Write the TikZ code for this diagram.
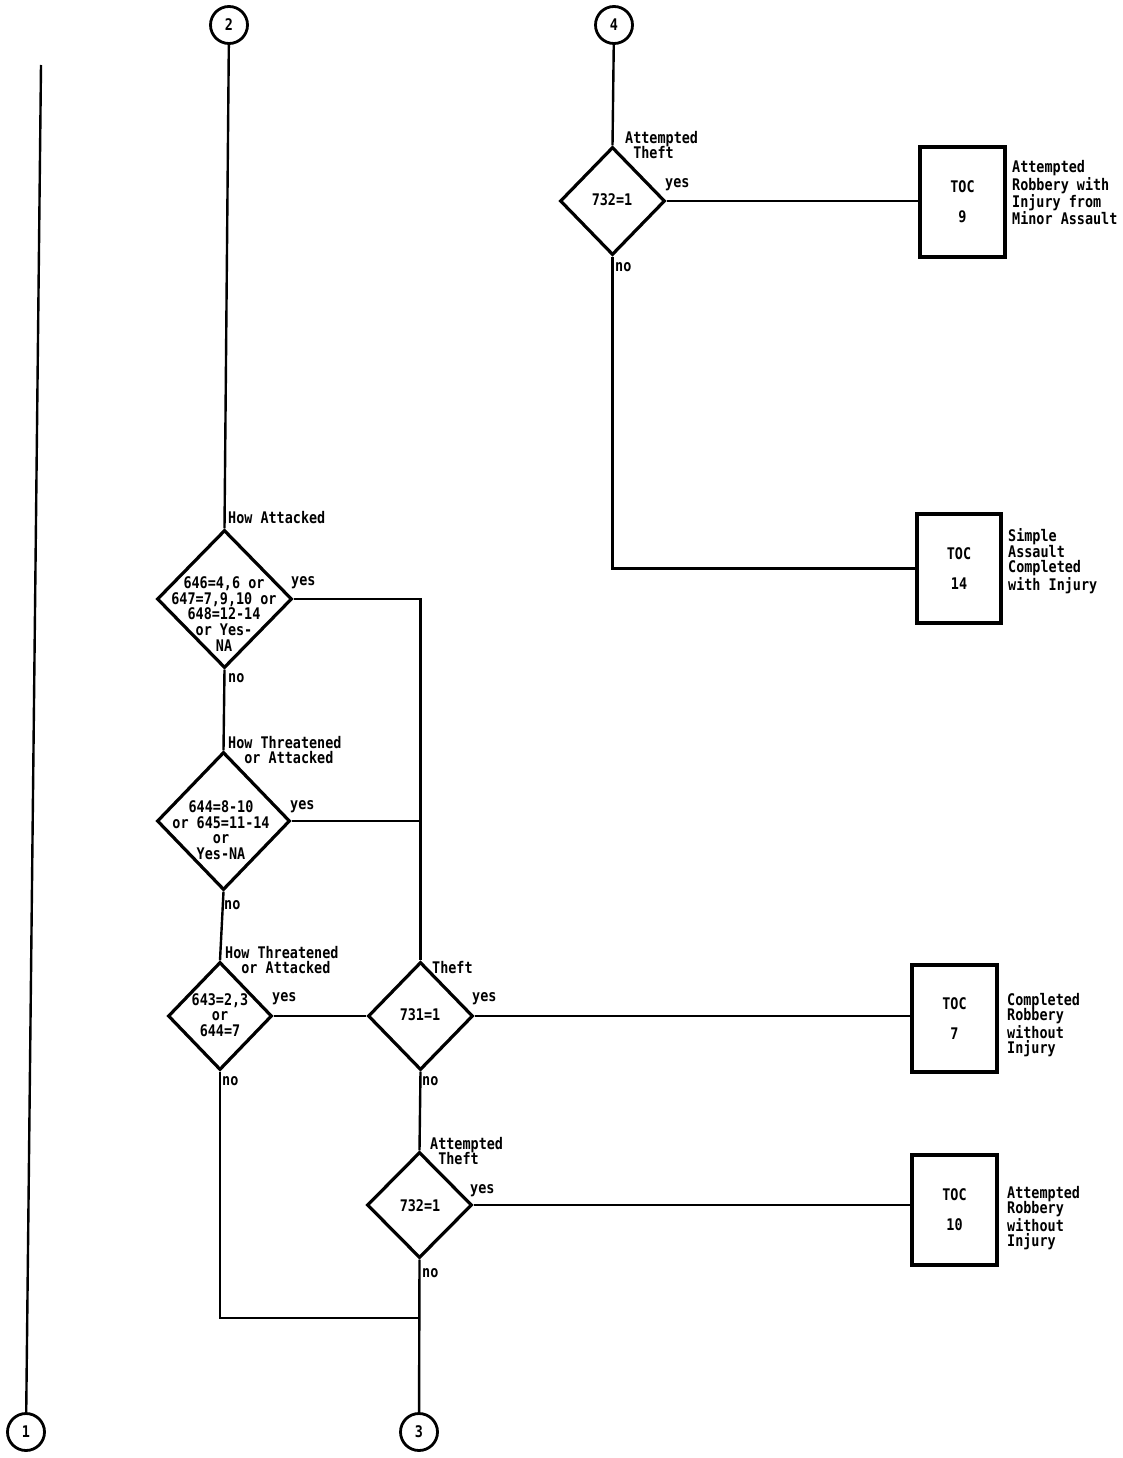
\documentclass[tikz,border=0pt]{standalone}
\usepackage{fontspec}
\newfontfamily\dm[FakeStretch=0.84]{DejaVu Sans Mono}
\usetikzlibrary{shapes.geometric}
\tikzset{
  txt/.style={font=\dm\bfseries\fontsize{16}{15.6}\selectfont, inner sep=0pt, align=center},
  lbl/.style={txt, anchor=west, align=left},
  conn/.style={line width=2.4pt},
  dia/.style={draw, diamond, line width=3.2pt, inner sep=0pt},
  tocbox/.style={draw, line width=3.2pt, inner sep=0pt, align=center,
    font=\dm\bfseries\fontsize{16}{30}\selectfont},
  circ/.style={draw, circle, line width=2.8pt, minimum size=37pt, inner sep=0pt,
    font=\dm\bfseries\fontsize{16}{15.6}\selectfont}
}
\begin{document}
\begin{tikzpicture}[x=1pt,y=-1pt]
\useasboundingbox[fill=white] (0,0) rectangle (1122,1458);

% connector circles
\node[circ] (c2) at (229,25) {2};
\node[circ] (c4) at (614,25) {4};
\node[circ] (c1) at (26,1432) {1};
\node[circ] (c3) at (419,1432) {3};
\coordinate (top1) at (41,65);

% left decision column
\node[dia, minimum width=135pt, minimum height=138pt] (d1) at (224.5,599) {};
\node[txt] (t1) at (224,614) {646=4,6 or\\647=7,9,10 or\\648=12-14\\or Yes-\\NA};
\node[lbl] (l1) at (228,518) {How Attacked};

\node[dia, minimum width=133pt, minimum height=138pt] (d2) at (223.5,821) {};
\node[txt] (t2) at (221,830) {644=8-10\\or 645=11-14\\or\\Yes-NA};
\node[lbl] (l2) at (228,750) {How Threatened\\\phantom{AA}or Attacked};

\node[dia, minimum width=104pt, minimum height=108pt] (d3) at (220,1016) {};
\node[txt] (t3) at (220,1015) {643=2,3\\or\\644=7};
\node[lbl] (l3) at (225,960) {How Threatened\\\phantom{AA}or Attacked};

% theft column
\node[dia, minimum width=105pt, minimum height=108pt] (th) at (420.5,1016) {};
\node[txt] (tt) at (420,1015) {731=1};
\node[lbl] (lt) at (432,968) {Theft};

\node[dia, minimum width=105pt, minimum height=106pt] (a2) at (419.5,1205) {};
\node[txt] (ta2) at (420,1206) {732=1};
\node[lbl] (la2) at (430,1151) {Attempted\\\phantom{A}Theft};

% right column
\node[dia, minimum width=105pt, minimum height=108pt] (a1) at (612.5,201) {};
\node[txt] (ta1) at (612,200) {732=1};
\node[lbl] (la1) at (625,145) {Attempted\\\phantom{A}Theft};

% TOC boxes
\node[tocbox, minimum width=85pt, minimum height=110pt] (t9) at (962.5,202) {TOC\\9};
\node[tocbox, minimum width=84pt, minimum height=109pt] (t14) at (959,568.5) {TOC\\14};
\node[tocbox, minimum width=85pt, minimum height=107pt] (t7) at (954.5,1018.5) {TOC\\7};
\node[tocbox, minimum width=85pt, minimum height=110pt] (t10) at (954.5,1210) {TOC\\10};

\node[lbl] (x9) at (1012,193) {Attempted\\Robbery with\\Injury from\\Minor Assault};
\node[lbl] (x14) at (1008,561) {Simple\\Assault\\Completed\\with Injury};
\node[lbl] (x7) at (1007,1025) {Completed\\Robbery\\without\\Injury};
\node[lbl] (x10) at (1007,1218) {Attempted\\Robbery\\without\\Injury};

% yes / no labels
\node[lbl] (y1) at (291,583) {yes};
\node[lbl] (n1) at (228,678) {no};
\node[lbl] (y2) at (290,807) {yes};
\node[lbl] (n2) at (224,905) {no};
\node[lbl] (y3) at (272,999) {yes};
\node[lbl] (n3) at (222,1081) {no};
\node[lbl] (yt) at (472,999) {yes};
\node[lbl] (nt) at (422,1081) {no};
\node[lbl] (ya2) at (470,1191) {yes};
\node[lbl] (na2) at (422,1273) {no};
\node[lbl] (ya1) at (665,185) {yes};
\node[lbl] (na1) at (615,267) {no};

% connectors
\coordinate (jn) at (419.5,1318);
\draw[conn] (c1) -- (top1);
\draw[conn] (c2) -- (d1.north);
\draw[conn] (d1.east) -| (th.north);
\draw[conn] (d1.south) -- (d2.north);
\draw[conn] (d2.east) -- (d2.east -| th.north);
\draw[conn] (d2.south) -- (d3.north);
\draw[conn] (d3.east) -- (th.west);
\draw[conn] (th.east) -- (th.east -| t7.west);
\draw[conn] (th.south) -- (a2.north);
\draw[conn] (a2.east) -- (a2.east -| t10.west);
\draw[conn] (d3.south) |- (jn);
\draw[conn] (a2.south) -- (c3);
\draw[conn] (c4) -- (a1.north);
\draw[conn] (a1.east) -- (a1.east -| t9.west);
\draw[conn] (a1.south) |- (t14.west);
\end{tikzpicture}
\end{document}
